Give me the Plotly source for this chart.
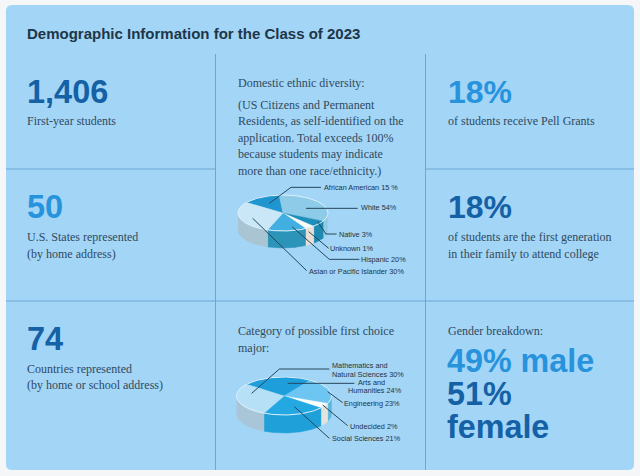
import numpy as np
import plotly.graph_objects as go

# ---------- data ----------
ethnic_labels = ["African American 15 %", "White 54%", "Native 3%", "Unknown 1%", "Hispanic 20%", "Asian or Pacific Islander 30%"]
ethnic_drawn_share = [49, 122, 20, 13, 50, 106]
ethnic_top = ["#1f96cf", "#8ecbe9", "#1d8fbb", "#fbfbf6", "#41b0e0", "#c9e7f6"]
ethnic_side = ["#1f86b5", "#94cbe4", "#1d8ab3", "#eadfd6", "#2c93b9", "#a9c4d3"]

major_labels = ["Arts and Humanities 24%", "Engineering 23%", "Undecided 2%", "Social Sciences 21%", "Mathematics and Natural Sciences 30%"]
major_drawn_share = [85, 80, 16, 76, 103]
major_top = ["#1e9fdc", "#6cc6f1", "#fbfdfb", "#23a8e2", "#b5e0f6"]
major_side = ["#1e90c5", "#5ab6dd", "#e4e4dd", "#1fa0d8", "#a9c6d8"]

title = "Demographic Information for the Class of 2023"
stats = ["1,406", "50", "74", "18%", "18%"]
DARK, MID = "#1461a6", "#2893dd"
BODY = "#2f4a5e"

fig = go.Figure()


def pie(cx, cy, rx, ry, depth, shares, tops, sides, start, names):
    a0 = start
    spans = []
    for s in shares:
        spans.append((a0, a0 - s))
        a0 -= s
    for (a, b), col, name in zip(spans, sides, names):
        lo, hi = sorted((a, b))
        ts = np.radians(np.linspace(lo, hi, 80))
        keep = ts[np.sin(ts) <= 0.001]
        if len(keep) < 2:
            continue
        x = cx + rx * np.cos(keep)
        y = cy - ry * np.sin(keep)
        fig.add_trace(go.Scatter(
            x=np.r_[x, x[::-1]], y=np.r_[y, y[::-1] + depth], fill="toself", mode="lines",
            fillcolor=col, line=dict(color=col, width=0.5), hoverinfo="skip", name=name))
    for (a, b), col, name in zip(spans, tops, names):
        ts = np.radians(np.linspace(a, b, 80))
        x = np.r_[cx, cx + rx * np.cos(ts), cx]
        y = np.r_[cy, cy - ry * np.sin(ts), cy]
        fig.add_trace(go.Scatter(x=x, y=y, fill="toself", mode="lines", fillcolor=col,
                                 line=dict(color=col, width=0.4), hoverinfo="skip", name=name))
    ts = np.radians(np.linspace(0, 360, 200))
    fig.add_trace(go.Scatter(x=cx + rx * np.cos(ts), y=cy - ry * np.sin(ts), mode="lines",
                             line=dict(color="#dff1fb", width=1), hoverinfo="skip"))


pie(283, 213, 45, 18, 17, ethnic_drawn_share, ethnic_top, ethnic_side, 144, ethnic_labels)
pie(284, 396, 47.5, 19, 18, major_drawn_share, major_top, major_side, 142, major_labels)


def leader(ox, oy, pts):
    fig.add_trace(go.Scatter(x=[ox + p[0] / 3 for p in pts], y=[oy + p[1] / 3 for p in pts], mode="lines",
                             line=dict(color="#26465c", width=1), hoverinfo="skip"))


for pts in [[(160, 100), (225, 52), (315, 52)], [(270, 115), (425, 115)],
            [(305, 155), (330, 192), (362, 192)], [(278, 185), (338, 235)],
            [(228, 170), (340, 268), (430, 268)], [(110, 145), (272, 302)]]:
    leader(216, 170, pts)
for pts in [[(107, 130), (190, 57), (340, 57)], [(215, 100), (415, 100)], [(335, 125), (380, 158)],
            [(320, 165), (395, 227)], [(235, 170), (340, 265)]]:
    leader(216, 350, pts)


def txt(x, y, s, size, color=BODY, fam="Liberation Serif", bold=False, anchor="left"):
    fig.add_annotation(x=x, y=y, text=f"<b>{s}</b>" if bold else s, showarrow=False, xanchor=anchor, yanchor="middle",
                       align=anchor, font=dict(size=size, color=color, family=fam), xref="x", yref="y",
                       borderpad=0, borderwidth=0)


SANS = "Liberation Sans"
txt(27, 33.5, title, 15, "#1d3648", SANS, True)

txt(27, 92, stats[0], 32.5, DARK, SANS, True)
txt(27, 120.5, "First-year students", 12)
txt(27, 207, stats[1], 32.5, MID, SANS, True)
txt(27, 237, "U.S. States represented", 12)
txt(27, 254, "(by home address)", 12)
txt(27, 339, stats[2], 32.5, DARK, SANS, True)
txt(27, 368.5, "Countries represented", 12)
txt(27, 385, "(by home or school address)", 12)

txt(238, 83, "Domestic ethnic diversity:", 12)
for y, s in zip([105, 121, 137.5, 154, 171],
                ["(US Citizens and Permanent", "Residents, as self-identified on the", "application. Total exceeds 100%",
                 "because students may indicate", "more than one race/ethnicity.)"]):
    txt(238, y, s, 12)
txt(238, 331, "Category of possible first choice", 12)
txt(238, 347.5, "major:", 12)

txt(448, 92, stats[3], 32, MID, SANS, True)
txt(448, 120.5, "of students receive Pell Grants", 12)
txt(448, 207, stats[4], 32, DARK, SANS, True)
txt(448, 237, "of students are the first generation", 12)
txt(448, 254, "in their family to attend college", 12)
txt(448, 331, "Gender breakdown:", 12)
txt(447, 361, "49% male", 32.3, MID, SANS, True)
txt(447, 394, "51%", 32.3, DARK, SANS, True)
txt(447, 427, "female", 32.3, DARK, SANS, True)

for x, y, s in [(324, 187.5, "African American 15 %"), (361, 207.5, "White 54%"), (338.5, 234, "Native 3%"),
                (330, 248.5, "Unknown 1%"), (360.5, 259.5, "Hispanic 20%"), (309, 271, "Asian or Pacific Islander 30%"),
                (332, 365.2, "Mathematics and"), (332, 374, "Natural Sciences 30%"), (358, 382, "Arts and"),
                (348, 390.8, "Humanities 24%"), (344, 403.5, "Engineering 23%"), (349.5, 426, "Undecided 2%"),
                (332, 438.5, "Social Sciences 21%")]:
    txt(x, y, s, 7.3, "#24333e", SANS)

line = dict(color="#6aa7d3", width=1)
panel = "M 12,5 L 628,5 Q 634,5 634,11 L 634,464 Q 634,470 628,470 L 12,470 Q 6,470 6,464 L 6,11 Q 6,5 12,5 Z"
shapes = [
    dict(type="path", path=panel, fillcolor="#a3d5f6", line=dict(width=0), layer="below"),
    dict(type="line", x0=215.5, x1=215.5, y0=54, y1=470, line=line, layer="below"),
    dict(type="line", x0=425.5, x1=425.5, y0=54, y1=470, line=line, layer="below"),
    dict(type="line", x0=6, x1=215, y0=169, y1=169, line=line, layer="below"),
    dict(type="line", x0=426, x1=634, y0=169, y1=169, line=line, layer="below"),
    dict(type="line", x0=6, x1=634, y0=301, y1=301, line=line, layer="below"),
]

fig.update_layout(
    width=640, height=476, margin=dict(l=0, r=0, t=0, b=0), showlegend=False,
    paper_bgcolor="#f4f6f8", plot_bgcolor="rgba(0,0,0,0)", shapes=shapes,
    xaxis=dict(range=[0, 640], visible=False, fixedrange=True),
    yaxis=dict(range=[476, 0], visible=False, fixedrange=True),
)
fig.write_html("out.html", config={"displayModeBar": False},
               post_script="document.body.style.margin='0';document.body.style.overflow='hidden';")
